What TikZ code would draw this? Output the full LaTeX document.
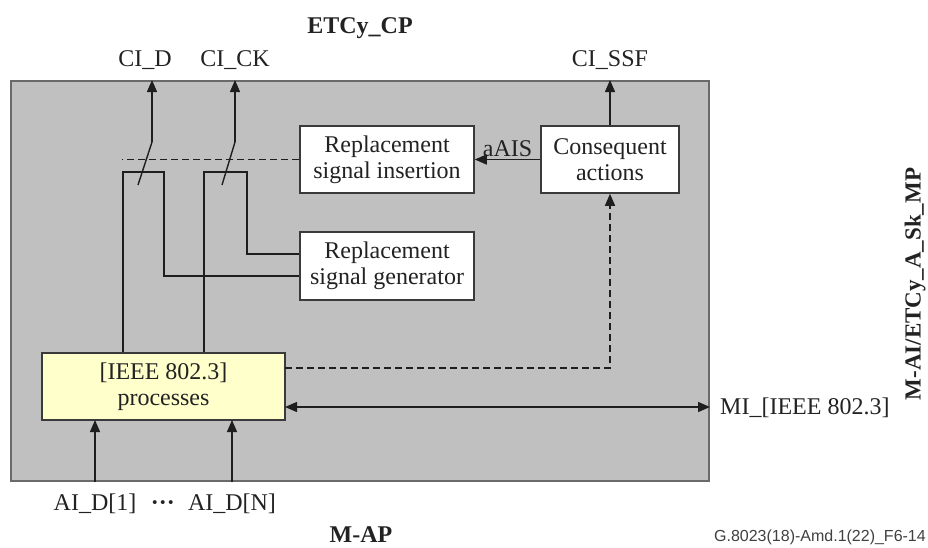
\documentclass[tikz,border=0pt]{standalone}
\usepackage{fontspec}
\setmainfont{Liberation Serif}
\newfontfamily\sansf{Liberation Sans}
\usetikzlibrary{arrows.meta}
\definecolor{panel}{HTML}{C0C0C0}
\definecolor{panelline}{HTML}{6A6A6A}
\definecolor{boxline}{HTML}{3A3A3A}
\definecolor{linec}{HTML}{1E1E1E}
\definecolor{txt}{HTML}{222222}
\definecolor{yel}{HTML}{FFFFCC}
\tikzset{
  every node/.style={text=txt, font=\fontsize{24}{26}\selectfont},
  box/.style={draw=boxline, fill=white, line width=1.5pt, align=center, inner sep=0pt},
  lbl/.style={anchor=base, inner sep=0pt},
  conn/.style={draw=linec, line width=1.4pt},
  tip/.style={-{Triangle[length=12pt,width=10pt]}},
  arr/.style={conn, tip},
  arrtwo/.style={conn, {Triangle[length=12pt,width=10pt]}-{Triangle[length=12pt,width=10pt]}},
  dsh/.style={conn, dash pattern=on 7pt off 4pt},
}
\begin{document}
\begin{tikzpicture}[x=1pt,y=-1pt]
\useasboundingbox (0,0) rectangle (928,547);
% functional block
\node[draw=panelline, fill=panel, line width=2pt, minimum width=698pt, minimum height=400pt, inner sep=0pt] (fb) at (360,281) {};
% boxes
\node[box, minimum width=174pt, minimum height=67pt] (ins) at (387,159.5) {Replacement\\signal insertion};
\node[box, minimum width=138pt, minimum height=67pt] (cons) at (610,159.5) {Consequent\\actions};
\node[box, minimum width=174pt, minimum height=68pt] (gen) at (387,266) {Replacement\\signal generator};
\node[box, fill=yel, minimum width=243pt, minimum height=67pt] (yel) at (163.5,386.5) {[IEEE 802.3]\\processes};
% coordinates
\coordinate (s1top) at (152,142);
\coordinate (s1end) at (138,185);
\coordinate (b1l) at (123,172);
\coordinate (b1r) at (164,172);
\coordinate (b1d) at (164,276);
\coordinate (s2top) at (235,142);
\coordinate (s2end) at (222,185);
\coordinate (b2l) at (204,172);
\coordinate (b2r) at (247,172);
\coordinate (b2d) at (247,254);
\coordinate (dashend) at (122,159.5);
\coordinate (d1) at (285,368);
\coordinate (m1) at (285,407);
\coordinate (a1) at (95,420);
\coordinate (a2) at (232,420);
% switches
\draw[arr] (s1top) -- (s1top |- fb.north);
\draw[conn] (s1top) -- (s1end);
\draw[conn] (b1l |- yel.north) -- (b1l) -- (b1r) -- (b1d) -- (b1d -| gen.west);
\draw[arr] (s2top) -- (s2top |- fb.north);
\draw[conn] (s2top) -- (s2end);
\draw[conn] (b2l |- yel.north) -- (b2l) -- (b2r) -- (b2d) -- (b2d -| gen.west);
\draw[dsh] (ins.west) -- (dashend);
% consequent actions
\draw[arr] (cons.west) -- (ins.east) node[midway, above=2pt, inner sep=0pt] (aais) {aAIS};
\draw[arr] (cons.north) -- (cons.north |- fb.north);
\draw[dsh, tip] (d1) -- (d1 -| cons.south) -- (cons.south);
% MI
\draw[arrtwo] (m1) -- (m1 -| fb.east);
% AI inputs
\draw[arr] (a1 |- fb.south) -- (a1);
\draw[arr] (a2 |- fb.south) -- (a2);
% labels
\node[lbl, font=\fontsize{24}{26}\selectfont\bfseries] (etc) at (360,33) {ETCy\_CP};
\node[lbl] (cid) at (145,66) {CI\_D};
\node[lbl] (cick) at (235,66) {CI\_CK};
\node[lbl] (cissf) at (610,66) {CI\_SSF};
\node[lbl, anchor=base west] (mi) at (720,414) {MI\_[IEEE 802.3]};
\node[lbl] (ai1) at (95,510) {AI\_D[1]};
\node[lbl, font=\fontsize{24}{26}\selectfont\bfseries] (dots) at (163,510) {···};
\node[lbl] (ain) at (232,510) {AI\_D[N]};
\node[lbl, font=\fontsize{24}{26}\selectfont\bfseries] (map) at (361,542) {M-AP};
\node[rotate=90, inner sep=0pt, font=\fontsize{23}{26}\selectfont\bfseries] (side) at (915,284) {M-AI/ETCy\_A\_Sk\_MP};
\node[lbl, anchor=base east, font=\fontsize{16}{18}\sansf, text=black!75] (fig) at (926,541) {G.8023(18)-Amd.1(22)\_F6-14};
\end{tikzpicture}
\end{document}
